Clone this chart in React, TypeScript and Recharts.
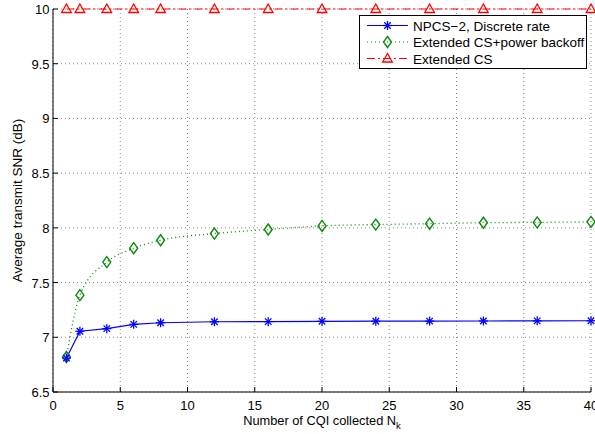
import React from "react";
import { LineChart, Line, XAxis, YAxis, CartesianGrid } from "recharts";

// number of CQI collected
const nk = [1, 2, 4, 6, 8, 12, 16, 20, 24, 28, 32, 36, 40];
// average transmit SNR (dB) per scheme
const npcsDiscrete = [6.81, 7.055, 7.079, 7.118, 7.133, 7.142, 7.143, 7.146, 7.147, 7.148, 7.149, 7.15, 7.151];
const extCsBackoff = [6.82, 7.385, 7.687, 7.814, 7.887, 7.948, 7.985, 8.018, 8.03, 8.038, 8.047, 8.05, 8.055];
const extCs = [10, 10, 10, 10, 10, 10, 10, 10, 10, 10, 10, 10, 10];

const xTicks = [0, 5, 10, 15, 20, 25, 30, 35, 40];
const yTicks = [6.5, 7, 7.5, 8, 8.5, 9, 9.5, 10];

const data = nk.map((n, i) => ({
  nk: n,
  npcs: npcsDiscrete[i],
  backoff: extCsBackoff[i],
  ext: extCs[i],
}));

const FONT = "'Liberation Sans', Arial, Helvetica, sans-serif";
const BLUE = "#0000ff";
const GREEN = "#0b8a0b";
const RED = "#ff0000";

const Star = ({ cx, cy, size = 4.5 }: any) => {
  if (cx == null || cy == null) return null;
  const d = size * 0.72;
  return (
    <g stroke={BLUE} strokeWidth={1.3}>
      <line x1={cx - size} y1={cy} x2={cx + size} y2={cy} />
      <line x1={cx} y1={cy - size} x2={cx} y2={cy + size} />
      <line x1={cx - d} y1={cy - d} x2={cx + d} y2={cy + d} />
      <line x1={cx - d} y1={cy + d} x2={cx + d} y2={cy - d} />
    </g>
  );
};

const Diamond = ({ cx, cy }: any) => {
  if (cx == null || cy == null) return null;
  return (
    <path
      d={`M${cx},${cy - 5.5} L${cx + 4},${cy} L${cx},${cy + 5.5} L${cx - 4},${cy} Z`}
      fill="none"
      stroke={GREEN}
      strokeWidth={1.4}
    />
  );
};

const Triangle = ({ cx, cy }: any) => {
  if (cx == null || cy == null) return null;
  return (
    <path
      d={`M${cx},${cy - 5} L${cx + 4.8},${cy + 3.5} L${cx - 4.8},${cy + 3.5} Z`}
      fill="none"
      stroke={RED}
      strokeWidth={1.3}
    />
  );
};

const BottomTick = ({ x, y, payload }: any) => (
  <g>
    <line x1={x} x2={x} y1={y} y2={y - 5} stroke="#000" />
    <text x={x} y={y + 17.5} textAnchor="middle" fontSize={13} fontFamily={FONT} fill="#000">
      {payload.value}
    </text>
  </g>
);

const TopTick = ({ x, y }: any) => (
  <line x1={x} x2={x} y1={y} y2={y + 5} stroke="#000" />
);

const LeftTick = ({ x, y, payload }: any) => (
  <g>
    <line x1={x} x2={x + 5} y1={y} y2={y} stroke="#000" />
    <text x={x - 3.5} y={y + 5} textAnchor="end" fontSize={13} fontFamily={FONT} fill="#000">
      {payload.value}
    </text>
  </g>
);

const RightTick = ({ x, y }: any) => (
  <line x1={x} x2={x - 5} y1={y} y2={y} stroke="#000" />
);

const XLabel = ({ viewBox }: any) => {
  const cx = viewBox.x + viewBox.width / 2;
  return (
    <text x={cx} y={viewBox.y + 32.5} textAnchor="middle" fontSize={12.8} fontFamily={FONT} fill="#000">
      Number of CQI collected N
      <tspan fontSize={9.5} dy={4}>k</tspan>
    </text>
  );
};

const YLabel = ({ viewBox }: any) => {
  const cy = viewBox.y + viewBox.height / 2;
  return (
    <text
      x={22}
      y={cy}
      transform={`rotate(-90 22 ${cy})`}
      textAnchor="middle"
      fontSize={13.5}
      fontFamily={FONT}
      fill="#000"
    >
      Average transmit SNR (dB)
    </text>
  );
};

const legendItems = [
  { name: "NPCS\u22122, Discrete rate", color: BLUE, dash: undefined, marker: "star" },
  { name: "Extended CS+power backoff", color: GREEN, dash: "1 3", marker: "diamond" },
  { name: "Extended CS", color: RED, dash: "8 3 2 3", marker: "triangle" },
];

const ChartLegend = () => (
  <svg
    width={228}
    height={54}
    style={{ position: "absolute", left: 359, top: 15 }}
  >
    <rect x={0.5} y={0.5} width={227} height={53} fill="#fff" stroke="#000" />
    {legendItems.map((it, i) => {
      const y = 10.5 + i * 16.5;
      return (
        <g key={it.name}>
          <line x1={8} x2={49} y1={y} y2={y} stroke={it.color} strokeWidth={1.2} strokeDasharray={it.dash} />
          {it.marker === "star" && <Star cx={28.5} cy={y} />}
          {it.marker === "diamond" && <Diamond cx={28.5} cy={y} />}
          {it.marker === "triangle" && <Triangle cx={28.5} cy={y} />}
          <text x={54} y={y + 5} fontSize={13.5} fontFamily={FONT} fill="#000">
            {it.name}
          </text>
        </g>
      );
    })}
  </svg>
);

export default function App() {
  return (
    <div style={{ position: "absolute", left: 0, top: 0, width: 595, height: 434, background: "#fff" }}>
      <LineChart
        width={595}
        height={434}
        data={data}
        margin={{ top: 9, right: 4, left: 0, bottom: 0 }}
      >
        <CartesianGrid stroke="#8a8a8a" strokeDasharray="1 3" />
        <XAxis
          dataKey="nk"
          type="number"
          domain={[0, 40]}
          ticks={xTicks}
          interval={0}
          height={42}
          tickSize={0}
          tickMargin={0}
          tickLine={false}
          axisLine={{ stroke: "#000" }}
          tick={<BottomTick />}
          label={{ content: (p: any) => <XLabel {...p} /> }}
        />
        <XAxis
          xAxisId="top"
          orientation="top"
          dataKey="nk"
          type="number"
          domain={[0, 40]}
          ticks={xTicks}
          interval={0}
          height={0}
          tickSize={0}
          tickMargin={0}
          tickLine={false}
          axisLine={{ stroke: "#000" }}
          tick={<TopTick />}
        />
        <YAxis
          type="number"
          domain={[6.5, 10]}
          ticks={yTicks}
          interval={0}
          width={53}
          tickSize={0}
          tickMargin={0}
          tickLine={false}
          axisLine={{ stroke: "#000" }}
          tick={<LeftTick />}
          label={{ content: (p: any) => <YLabel {...p} /> }}
        />
        <YAxis
          yAxisId="right"
          orientation="right"
          type="number"
          domain={[6.5, 10]}
          ticks={yTicks}
          interval={0}
          width={0}
          tickSize={0}
          tickMargin={0}
          tickLine={false}
          axisLine={{ stroke: "#000" }}
          tick={<RightTick />}
        />
        <Line
          dataKey="ext"
          type="linear"
          stroke={RED}
          strokeWidth={1.2}
          strokeDasharray="8 3 2 3"
          dot={(p: any) => <Triangle key={`t${p.index}`} cx={p.cx} cy={p.cy} />}
          isAnimationActive={false}
        />
        <Line
          dataKey="backoff"
          type="monotone"
          stroke={GREEN}
          strokeWidth={1.3}
          strokeDasharray="1 3"
          dot={(p: any) => <Diamond key={`d${p.index}`} cx={p.cx} cy={p.cy} />}
          isAnimationActive={false}
        />
        <Line
          dataKey="npcs"
          type="linear"
          stroke={BLUE}
          strokeWidth={1.2}
          dot={(p: any) => <Star key={`s${p.index}`} cx={p.cx} cy={p.cy} />}
          isAnimationActive={false}
        />
      </LineChart>
      <ChartLegend />
    </div>
  );
}
